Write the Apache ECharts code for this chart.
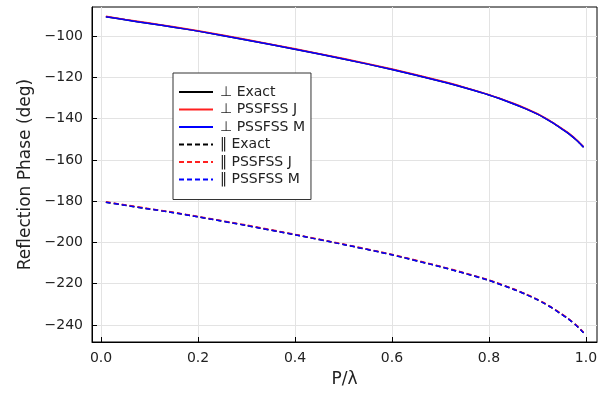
<!DOCTYPE html>
<html>
<head>
<meta charset="utf-8">
<script src="https://cdn.jsdelivr.net/npm/echarts@6/dist/echarts.min.js"></script>
<style>
html,body{margin:0;padding:0;background:#fff;}
#chart{width:605px;height:393px;}
</style>
</head>
<body>
<div id="chart"></div>
<script>
const pOverLambda = [0.01, 0.05, 0.1, 0.15, 0.2, 0.3, 0.4, 0.5, 0.6, 0.7, 0.75, 0.8, 0.85, 0.875, 0.9, 0.915, 0.93, 0.95, 0.96, 0.97, 0.98, 0.985, 0.99, 0.995];

const perpExact = [-90.5, -92.0, -93.8, -95.6, -97.5, -101.8, -106.3, -111.0, -116.1, -121.8, -125.0, -128.5, -132.7, -135.1, -137.8, -139.7, -141.8, -144.9, -146.5, -148.3, -150.3, -151.4, -152.6, -153.8];
const perpJ     = [-90.3, -91.8, -93.6, -95.4, -97.3, -101.6, -106.1, -110.8, -115.9, -121.6, -124.8, -128.3, -132.5, -134.9, -137.6, -139.5, -141.6, -144.7, -146.3, -148.1, -150.1, -151.2, -152.4, -153.6];
const perpM     = [-90.5, -92.0, -93.8, -95.6, -97.5, -101.8, -106.3, -111.0, -116.1, -121.8, -125.0, -128.5, -132.7, -135.1, -137.8, -139.7, -141.8, -144.9, -146.5, -148.3, -150.3, -151.4, -152.6, -153.8];

const parExact = [-180.5, -182.0, -183.8, -185.6, -187.6, -191.8, -196.3, -201.0, -206.0, -211.8, -215.0, -218.4, -222.7, -225.1, -227.8, -229.7, -231.8, -234.9, -236.5, -238.3, -240.3, -241.4, -242.6, -243.8];
const parJ     = [-180.3, -181.8, -183.6, -185.4, -187.4, -191.6, -196.1, -200.8, -205.8, -211.6, -214.8, -218.2, -222.5, -224.9, -227.6, -229.5, -231.6, -234.7, -236.3, -238.1, -240.1, -241.2, -242.4, -243.6];
const parM     = [-180.5, -182.0, -183.8, -185.6, -187.6, -191.8, -196.3, -201.0, -206.0, -211.8, -215.0, -218.4, -222.7, -225.1, -227.8, -229.7, -231.8, -234.9, -236.5, -238.3, -240.3, -241.4, -242.6, -243.8];

const xTicks = [0.0, 0.2, 0.4, 0.6, 0.8, 1.0];
const yTicks = [-240, -220, -200, -180, -160, -140, -120, -100];

const seriesNames = ['⊥ Exact', '⊥ PSSFSS J', '⊥ PSSFSS M', '‖ Exact', '‖ PSSFSS J', '‖ PSSFSS M'];
const seriesData = [perpExact, perpJ, perpM, parExact, parJ, parM];
const seriesColors = ['#000000', '#ff2020', '#0000ff', '#000000', '#ff2020', '#0000ff'];
const seriesDashed = [false, false, false, true, true, true];

const FONT = 'DejaVu Sans';

const chart = echarts.init(document.getElementById('chart'), null, {renderer: 'canvas'});

const series = seriesNames.map((name, i) => ({
  name: name,
  type: 'line',
  data: pOverLambda.map((x, k) => [x, seriesData[i][k]]),
  symbol: 'none',
  showSymbol: false,
  smooth: 0.2,
  lineStyle: {color: seriesColors[i], width: 1.5, type: seriesDashed[i] ? [5, 3] : 'solid'},
  itemStyle: {color: seriesColors[i]},
  z: 2 + i
}));

chart.setOption({
  animation: false,
  backgroundColor: '#ffffff',
  textStyle: {fontFamily: FONT},
  grid: {
    left: 92, right: 8, top: 7, bottom: 50,
    show: true, borderColor: '#000', borderWidth: 1, backgroundColor: 'transparent'
  },
  legend: {
    orient: 'vertical',
    left: 173, top: 73,
    backgroundColor: '#fff',
    borderColor: '#333',
    borderWidth: 1,
    padding: [12, 6, 13, 5],
    itemWidth: 34,
    itemHeight: 14,
    itemGap: 3.5,
    itemStyle: {opacity: 0, borderWidth: 0},
    textStyle: {fontFamily: FONT, fontSize: 14, color: '#222', padding: [0, 0, 0, 2]},
    data: seriesNames,
    selectedMode: false
  },
  xAxis: {
    type: 'value',
    min: -0.0186,
    max: 1.0227,
    name: 'P/λ',
    nameLocation: 'middle',
    nameGap: 29,
    nameTextStyle: {fontFamily: FONT, fontSize: 17, color: '#222'},
    axisLine: {show: true, onZero: false, lineStyle: {color: '#000', width: 1}},
    axisTick: {show: true, inside: true, length: 5, lineStyle: {color: '#000'}, customValues: xTicks},
    axisLabel: {
      fontFamily: FONT, fontSize: 14, color: '#222', margin: 9,
      customValues: xTicks,
      formatter: (v) => v.toFixed(1)
    },
    splitLine: {show: true, lineStyle: {color: '#e3e3e3', width: 1}}
  },
  yAxis: {
    type: 'value',
    min: -248.3,
    max: -85.8,
    name: 'Reflection Phase (deg)',
    nameLocation: 'middle',
    nameGap: 58,
    nameTextStyle: {fontFamily: FONT, fontSize: 17, color: '#222'},
    axisLine: {show: true, onZero: false, lineStyle: {color: '#000', width: 1}},
    axisTick: {show: true, inside: true, length: 5, lineStyle: {color: '#000'}, customValues: yTicks},
    axisLabel: {
      fontFamily: FONT, fontSize: 14, color: '#222', margin: 9,
      customValues: yTicks,
      formatter: (v) => String(Math.round(v)).replace('-', '\u2212')
    },
    splitLine: {show: true, lineStyle: {color: '#e3e3e3', width: 1}}
  },
  series: series
});
</script>
</body>
</html>
